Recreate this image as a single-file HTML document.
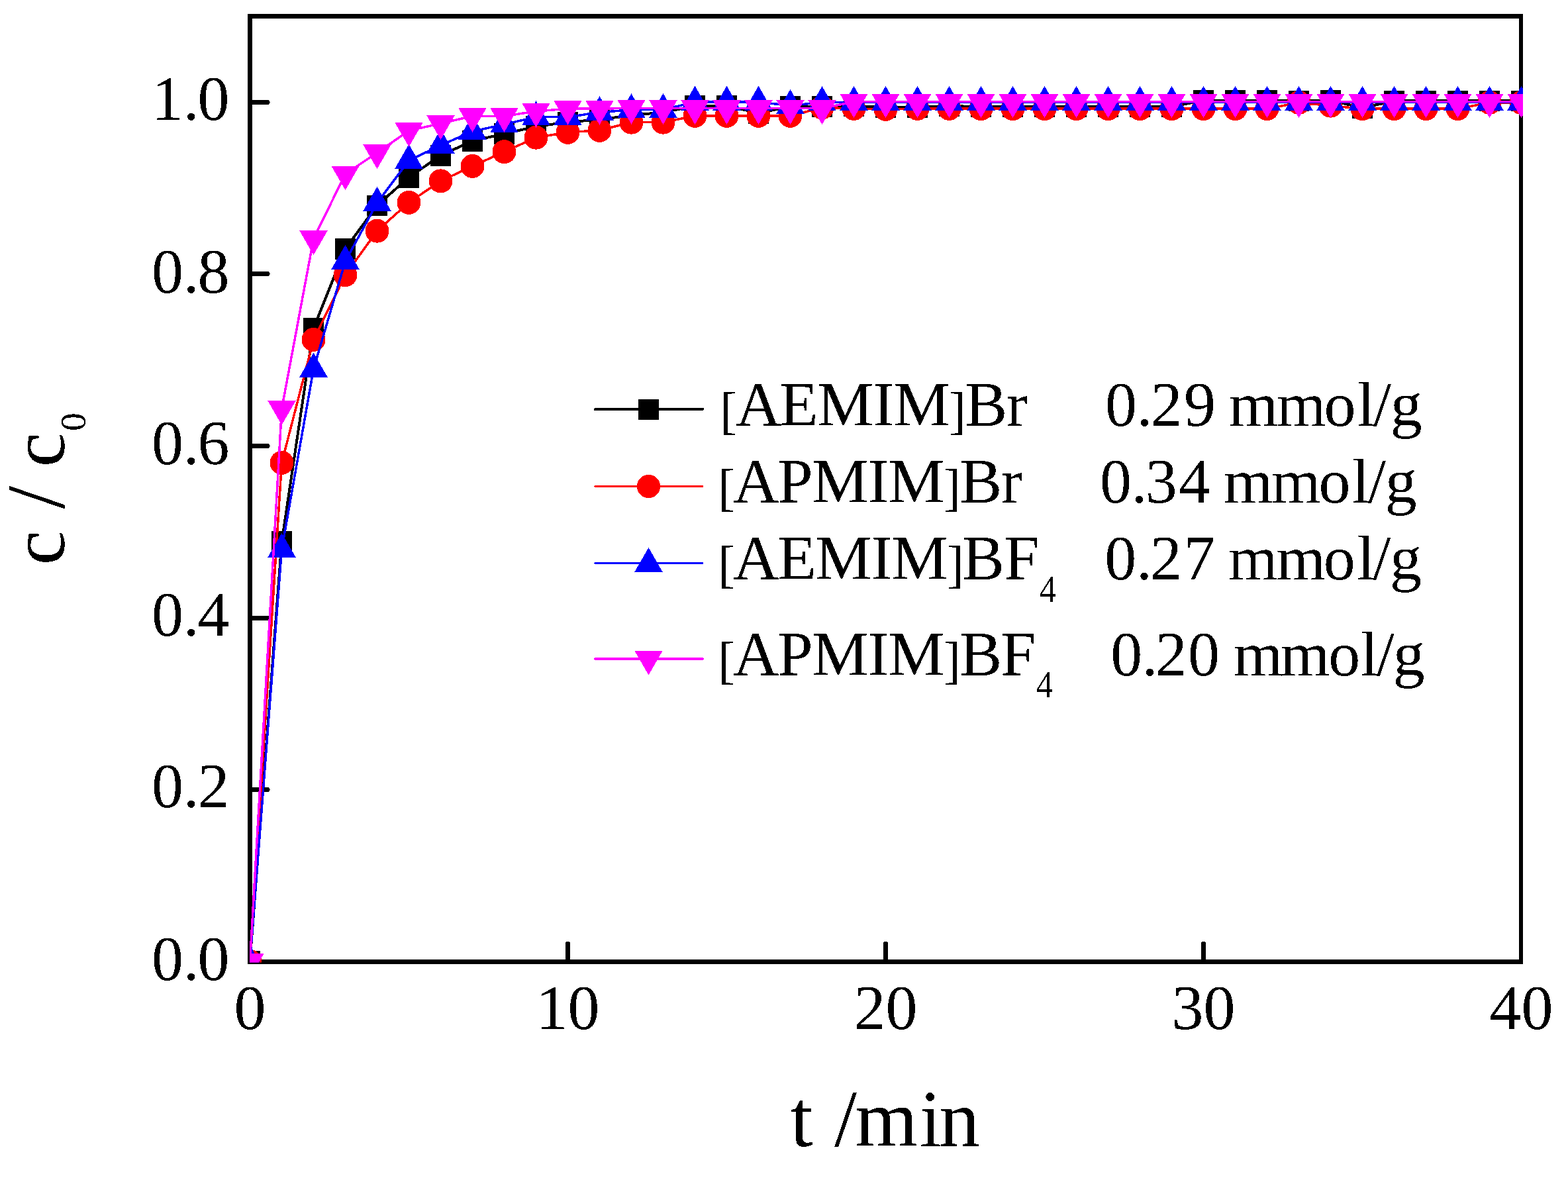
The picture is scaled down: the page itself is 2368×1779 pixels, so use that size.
<!DOCTYPE html>
<html><head><meta charset="utf-8"><title>c/c0 vs t</title>
<style>
html,body{margin:0;padding:0;background:#fff;overflow:hidden;}
svg{display:block;}
text{font-family:'Liberation Serif', 'Times New Roman', serif;fill:#000;filter:url(#al);}
</style></head><body>
<svg width="2368" height="1779" viewBox="0 0 2368 1779" shape-rendering="crispEdges">
<rect x="0" y="0" width="2368" height="1779" fill="#fff"/>
<defs><filter id="al" x="-5%" y="-5%" width="110%" height="110%"><feComponentTransfer><feFuncA type="discrete" tableValues="0 1"/></feComponentTransfer></filter><clipPath id="pc"><rect x="377" y="24.5" width="1923" height="1429"/></clipPath></defs>
<g fill="#000" shape-rendering="crispEdges"><rect x="374" y="21" width="7" height="1435"/><rect x="374" y="21" width="1926" height="7"/><rect x="2294" y="21" width="6" height="1435"/><rect x="374" y="1449" width="1926" height="7"/></g>
<line x1="378" y1="1192.5" x2="404.1" y2="1192.5" stroke="#000" stroke-width="7" stroke-linecap="round"/><line x1="378" y1="933.5" x2="404.1" y2="933.5" stroke="#000" stroke-width="7" stroke-linecap="round"/><line x1="378" y1="673.5" x2="404.1" y2="673.5" stroke="#000" stroke-width="7" stroke-linecap="round"/><line x1="378" y1="413.5" x2="404.1" y2="413.5" stroke="#000" stroke-width="7" stroke-linecap="round"/><line x1="378" y1="154.5" x2="404.1" y2="154.5" stroke="#000" stroke-width="7" stroke-linecap="round"/>
<line x1="857.5" y1="1452" x2="857.5" y2="1425.4" stroke="#000" stroke-width="7" stroke-linecap="round"/><line x1="1337.5" y1="1452" x2="1337.5" y2="1425.4" stroke="#000" stroke-width="7" stroke-linecap="round"/><line x1="1817.5" y1="1452" x2="1817.5" y2="1425.4" stroke="#000" stroke-width="7" stroke-linecap="round"/>
<text x="229 276.7 298.4" y="1480.0" font-size="96">0.0</text><text x="229 276.7 298.4" y="1218.9" font-size="96">0.2</text><text x="229 276.7 298.4" y="959.6" font-size="96">0.4</text><text x="229 276.7 298.4" y="700.9" font-size="96">0.6</text><text x="229 276.7 298.4" y="441.5" font-size="96">0.8</text><text x="229 276.7 298.4" y="181.1" font-size="96">1.0</text>
<text x="377.5" y="1553.9" font-size="96" text-anchor="middle">0</text><text x="857.5" y="1553.9" font-size="96" text-anchor="middle">10</text><text x="1337.5" y="1553.9" font-size="96" text-anchor="middle">20</text><text x="1817.5" y="1553.9" font-size="96" text-anchor="middle">30</text><text x="2297.5" y="1553.9" font-size="96" text-anchor="middle">40</text>
<text x="1193.5 1227.4 1260.3 1291.3 1388.6 1418.6" y="1731.3" font-size="122">t /min</text>
<text transform="translate(96.7,853.3) rotate(-90)"><tspan x="0" font-size="117">c </tspan><tspan x="84.7" font-size="125">/ </tspan><tspan x="148.1" font-size="117">c</tspan><tspan x="202.2" dy="32.3" font-size="55.4">0</tspan></text>
<g clip-path="url(#pc)" shape-rendering="crispEdges">
<polyline fill="none" stroke="#000" stroke-width="4" stroke-linejoin="round" points="377.5,1452.0 425.5,818.2 473.5,495.7 521.5,375.9 569.5,310.2 617.5,267.8 665.5,234.8 713.5,212.8 761.5,202.0 809.5,191.0 857.5,184.5 905.5,180.5 953.5,174.1 1001.5,169.6 1049.5,159.8 1097.5,159.8 1145.5,170.7 1193.5,160.9 1241.5,161.0 1289.5,160.1 1337.5,161.8 1385.5,161.8 1433.5,160.1 1481.5,161.0 1529.5,161.0 1577.5,161.0 1625.5,161.0 1673.5,161.0 1721.5,161.0 1769.5,161.0 1817.5,151.6 1865.5,151.6 1913.5,151.6 1961.5,152.6 2009.5,151.6 2057.5,162.9 2105.5,152.4 2153.5,152.4 2201.5,152.4 2249.5,152.4 2297.5,152.4"/>
<rect x="361.8" y="1436.2" width="31.5" height="31.5" fill="#000"/><rect x="409.8" y="802.4" width="31.5" height="31.5" fill="#000"/><rect x="457.8" y="480.0" width="31.5" height="31.5" fill="#000"/><rect x="505.8" y="360.1" width="31.5" height="31.5" fill="#000"/><rect x="553.8" y="294.5" width="31.5" height="31.5" fill="#000"/><rect x="601.8" y="252.0" width="31.5" height="31.5" fill="#000"/><rect x="649.8" y="219.1" width="31.5" height="31.5" fill="#000"/><rect x="697.8" y="197.0" width="31.5" height="31.5" fill="#000"/><rect x="745.8" y="186.2" width="31.5" height="31.5" fill="#000"/><rect x="793.8" y="175.2" width="31.5" height="31.5" fill="#000"/><rect x="841.8" y="168.7" width="31.5" height="31.5" fill="#000"/><rect x="889.8" y="164.7" width="31.5" height="31.5" fill="#000"/><rect x="937.8" y="158.3" width="31.5" height="31.5" fill="#000"/><rect x="985.8" y="153.8" width="31.5" height="31.5" fill="#000"/><rect x="1033.8" y="144.1" width="31.5" height="31.5" fill="#000"/><rect x="1081.8" y="144.1" width="31.5" height="31.5" fill="#000"/><rect x="1129.8" y="155.0" width="31.5" height="31.5" fill="#000"/><rect x="1177.8" y="145.1" width="31.5" height="31.5" fill="#000"/><rect x="1225.8" y="145.2" width="31.5" height="31.5" fill="#000"/><rect x="1273.8" y="144.3" width="31.5" height="31.5" fill="#000"/><rect x="1321.8" y="146.0" width="31.5" height="31.5" fill="#000"/><rect x="1369.8" y="146.0" width="31.5" height="31.5" fill="#000"/><rect x="1417.8" y="144.3" width="31.5" height="31.5" fill="#000"/><rect x="1465.8" y="145.2" width="31.5" height="31.5" fill="#000"/><rect x="1513.8" y="145.2" width="31.5" height="31.5" fill="#000"/><rect x="1561.8" y="145.2" width="31.5" height="31.5" fill="#000"/><rect x="1609.8" y="145.2" width="31.5" height="31.5" fill="#000"/><rect x="1657.8" y="145.2" width="31.5" height="31.5" fill="#000"/><rect x="1705.8" y="145.2" width="31.5" height="31.5" fill="#000"/><rect x="1753.8" y="145.2" width="31.5" height="31.5" fill="#000"/><rect x="1801.8" y="135.9" width="31.5" height="31.5" fill="#000"/><rect x="1849.8" y="135.9" width="31.5" height="31.5" fill="#000"/><rect x="1897.8" y="135.9" width="31.5" height="31.5" fill="#000"/><rect x="1945.8" y="136.8" width="31.5" height="31.5" fill="#000"/><rect x="1993.8" y="135.9" width="31.5" height="31.5" fill="#000"/><rect x="2041.8" y="147.2" width="31.5" height="31.5" fill="#000"/><rect x="2089.8" y="136.7" width="31.5" height="31.5" fill="#000"/><rect x="2137.8" y="136.7" width="31.5" height="31.5" fill="#000"/><rect x="2185.8" y="136.7" width="31.5" height="31.5" fill="#000"/><rect x="2233.8" y="136.7" width="31.5" height="31.5" fill="#000"/><rect x="2281.8" y="136.7" width="31.5" height="31.5" fill="#000"/>
<polyline fill="none" stroke="#f00" stroke-width="3.5" stroke-linejoin="round" points="377.5,1452.0 425.5,698.8 473.5,513.0 521.5,415.3 569.5,348.7 617.5,305.8 665.5,273.4 713.5,251.0 761.5,229.2 809.5,207.7 857.5,199.8 905.5,196.8 953.5,184.7 1001.5,184.7 1049.5,174.9 1097.5,174.9 1145.5,174.9 1193.5,174.9 1241.5,162.5 1289.5,164.0 1337.5,164.8 1385.5,164.0 1433.5,164.0 1481.5,164.2 1529.5,164.2 1577.5,164.2 1625.5,164.2 1673.5,164.2 1721.5,164.2 1769.5,164.2 1817.5,164.2 1865.5,164.2 1913.5,164.2 1961.5,155.0 2009.5,159.7 2057.5,164.2 2105.5,164.2 2153.5,164.2 2201.5,164.2 2249.5,155.0 2297.5,155.0"/>
<circle cx="377.5" cy="1452.0" r="18.0" fill="#f00"/><circle cx="425.5" cy="698.8" r="18.0" fill="#f00"/><circle cx="473.5" cy="513.0" r="18.0" fill="#f00"/><circle cx="521.5" cy="415.3" r="18.0" fill="#f00"/><circle cx="569.5" cy="348.7" r="18.0" fill="#f00"/><circle cx="617.5" cy="305.8" r="18.0" fill="#f00"/><circle cx="665.5" cy="273.4" r="18.0" fill="#f00"/><circle cx="713.5" cy="251.0" r="18.0" fill="#f00"/><circle cx="761.5" cy="229.2" r="18.0" fill="#f00"/><circle cx="809.5" cy="207.7" r="18.0" fill="#f00"/><circle cx="857.5" cy="199.8" r="18.0" fill="#f00"/><circle cx="905.5" cy="196.8" r="18.0" fill="#f00"/><circle cx="953.5" cy="184.7" r="18.0" fill="#f00"/><circle cx="1001.5" cy="184.7" r="18.0" fill="#f00"/><circle cx="1049.5" cy="174.9" r="18.0" fill="#f00"/><circle cx="1097.5" cy="174.9" r="18.0" fill="#f00"/><circle cx="1145.5" cy="174.9" r="18.0" fill="#f00"/><circle cx="1193.5" cy="174.9" r="18.0" fill="#f00"/><circle cx="1241.5" cy="162.5" r="18.0" fill="#f00"/><circle cx="1289.5" cy="164.0" r="18.0" fill="#f00"/><circle cx="1337.5" cy="164.8" r="18.0" fill="#f00"/><circle cx="1385.5" cy="164.0" r="18.0" fill="#f00"/><circle cx="1433.5" cy="164.0" r="18.0" fill="#f00"/><circle cx="1481.5" cy="164.2" r="18.0" fill="#f00"/><circle cx="1529.5" cy="164.2" r="18.0" fill="#f00"/><circle cx="1577.5" cy="164.2" r="18.0" fill="#f00"/><circle cx="1625.5" cy="164.2" r="18.0" fill="#f00"/><circle cx="1673.5" cy="164.2" r="18.0" fill="#f00"/><circle cx="1721.5" cy="164.2" r="18.0" fill="#f00"/><circle cx="1769.5" cy="164.2" r="18.0" fill="#f00"/><circle cx="1817.5" cy="164.2" r="18.0" fill="#f00"/><circle cx="1865.5" cy="164.2" r="18.0" fill="#f00"/><circle cx="1913.5" cy="164.2" r="18.0" fill="#f00"/><circle cx="1961.5" cy="155.0" r="18.0" fill="#f00"/><circle cx="2009.5" cy="159.7" r="18.0" fill="#f00"/><circle cx="2057.5" cy="164.2" r="18.0" fill="#f00"/><circle cx="2105.5" cy="164.2" r="18.0" fill="#f00"/><circle cx="2153.5" cy="164.2" r="18.0" fill="#f00"/><circle cx="2201.5" cy="164.2" r="18.0" fill="#f00"/><circle cx="2249.5" cy="155.0" r="18.0" fill="#f00"/><circle cx="2297.5" cy="155.0" r="18.0" fill="#f00"/>
<polyline fill="none" stroke="#00f" stroke-width="3.5" stroke-linejoin="round" points="377.5,1452.0 425.5,829.5 473.5,557.2 521.5,394.4 569.5,306.4 617.5,242.3 665.5,219.5 713.5,198.4 761.5,187.8 809.5,176.7 857.5,176.7 905.5,169.6 953.5,165.8 1001.5,165.5 1049.5,154.2 1097.5,154.2 1145.5,154.2 1193.5,159.4 1241.5,154.6 1289.5,154.5 1337.5,154.5 1385.5,154.5 1433.5,154.5 1481.5,154.5 1529.5,154.5 1577.5,154.5 1625.5,154.5 1673.5,154.5 1721.5,154.5 1769.5,154.5 1817.5,154.5 1865.5,154.5 1913.5,154.5 1961.5,154.5 2009.5,154.5 2057.5,154.5 2105.5,154.5 2153.5,154.5 2201.5,154.5 2249.5,154.5 2297.5,154.5"/>
<polygon points="377.5,1427.5 356.3,1464.2 398.7,1464.2" fill="#00f"/><polygon points="425.5,805.0 404.3,841.7 446.7,841.7" fill="#00f"/><polygon points="473.5,532.7 452.3,569.5 494.7,569.5" fill="#00f"/><polygon points="521.5,369.9 500.3,406.7 542.7,406.7" fill="#00f"/><polygon points="569.5,281.9 548.3,318.7 590.7,318.7" fill="#00f"/><polygon points="617.5,217.8 596.3,254.6 638.7,254.6" fill="#00f"/><polygon points="665.5,195.0 644.3,231.8 686.7,231.8" fill="#00f"/><polygon points="713.5,173.9 692.3,210.6 734.7,210.6" fill="#00f"/><polygon points="761.5,163.3 740.3,200.1 782.7,200.1" fill="#00f"/><polygon points="809.5,152.2 788.3,188.9 830.7,188.9" fill="#00f"/><polygon points="857.5,152.2 836.3,188.9 878.7,188.9" fill="#00f"/><polygon points="905.5,145.1 884.3,181.8 926.7,181.8" fill="#00f"/><polygon points="953.5,141.3 932.3,178.0 974.7,178.0" fill="#00f"/><polygon points="1001.5,141.0 980.3,177.8 1022.7,177.8" fill="#00f"/><polygon points="1049.5,129.7 1028.3,166.5 1070.7,166.5" fill="#00f"/><polygon points="1097.5,129.7 1076.3,166.5 1118.7,166.5" fill="#00f"/><polygon points="1145.5,129.7 1124.3,166.5 1166.7,166.5" fill="#00f"/><polygon points="1193.5,134.9 1172.3,171.7 1214.7,171.7" fill="#00f"/><polygon points="1241.5,130.1 1220.3,166.9 1262.7,166.9" fill="#00f"/><polygon points="1289.5,130.0 1268.3,166.8 1310.7,166.8" fill="#00f"/><polygon points="1337.5,130.0 1316.3,166.8 1358.7,166.8" fill="#00f"/><polygon points="1385.5,130.0 1364.3,166.8 1406.7,166.8" fill="#00f"/><polygon points="1433.5,130.0 1412.3,166.8 1454.7,166.8" fill="#00f"/><polygon points="1481.5,130.0 1460.3,166.8 1502.7,166.8" fill="#00f"/><polygon points="1529.5,130.0 1508.3,166.8 1550.7,166.8" fill="#00f"/><polygon points="1577.5,130.0 1556.3,166.8 1598.7,166.8" fill="#00f"/><polygon points="1625.5,130.0 1604.3,166.8 1646.7,166.8" fill="#00f"/><polygon points="1673.5,130.0 1652.3,166.8 1694.7,166.8" fill="#00f"/><polygon points="1721.5,130.0 1700.3,166.8 1742.7,166.8" fill="#00f"/><polygon points="1769.5,130.0 1748.3,166.8 1790.7,166.8" fill="#00f"/><polygon points="1817.5,130.0 1796.3,166.8 1838.7,166.8" fill="#00f"/><polygon points="1865.5,130.0 1844.3,166.8 1886.7,166.8" fill="#00f"/><polygon points="1913.5,130.0 1892.3,166.8 1934.7,166.8" fill="#00f"/><polygon points="1961.5,130.0 1940.3,166.8 1982.7,166.8" fill="#00f"/><polygon points="2009.5,130.0 1988.3,166.8 2030.7,166.8" fill="#00f"/><polygon points="2057.5,130.0 2036.3,166.8 2078.7,166.8" fill="#00f"/><polygon points="2105.5,130.0 2084.3,166.8 2126.7,166.8" fill="#00f"/><polygon points="2153.5,130.0 2132.3,166.8 2174.7,166.8" fill="#00f"/><polygon points="2201.5,130.0 2180.3,166.8 2222.7,166.8" fill="#00f"/><polygon points="2249.5,130.0 2228.3,166.8 2270.7,166.8" fill="#00f"/><polygon points="2297.5,130.0 2276.3,166.8 2318.7,166.8" fill="#00f"/>
<polyline fill="none" stroke="#f0f" stroke-width="3.5" stroke-linejoin="round" points="377.5,1452.0 425.5,617.4 473.5,360.7 521.5,262.7 569.5,230.7 617.5,197.3 665.5,186.5 713.5,175.3 761.5,175.3 809.5,168.1 857.5,164.2 905.5,164.2 953.5,163.2 1001.5,163.6 1049.5,163.6 1097.5,163.6 1145.5,163.6 1193.5,163.6 1241.5,163.6 1289.5,153.7 1337.5,153.7 1385.5,153.7 1433.5,153.7 1481.5,153.7 1529.5,153.7 1577.5,153.7 1625.5,153.7 1673.5,153.7 1721.5,153.7 1769.5,153.7 1817.5,153.7 1865.5,153.7 1913.5,153.7 1961.5,153.7 2009.5,153.7 2057.5,153.7 2105.5,153.7 2153.5,153.7 2201.5,153.7 2249.5,153.7 2297.5,153.7"/>
<polygon points="377.5,1476.5 356.3,1439.8 398.7,1439.8" fill="#f0f"/><polygon points="425.5,641.9 404.3,605.2 446.7,605.2" fill="#f0f"/><polygon points="473.5,385.2 452.3,348.4 494.7,348.4" fill="#f0f"/><polygon points="521.5,287.2 500.3,250.5 542.7,250.5" fill="#f0f"/><polygon points="569.5,255.2 548.3,218.4 590.7,218.4" fill="#f0f"/><polygon points="617.5,221.8 596.3,185.1 638.7,185.1" fill="#f0f"/><polygon points="665.5,211.0 644.3,174.3 686.7,174.3" fill="#f0f"/><polygon points="713.5,199.8 692.3,163.0 734.7,163.0" fill="#f0f"/><polygon points="761.5,199.8 740.3,163.0 782.7,163.0" fill="#f0f"/><polygon points="809.5,192.6 788.3,155.9 830.7,155.9" fill="#f0f"/><polygon points="857.5,188.7 836.3,152.0 878.7,152.0" fill="#f0f"/><polygon points="905.5,188.7 884.3,152.0 926.7,152.0" fill="#f0f"/><polygon points="953.5,187.7 932.3,150.9 974.7,150.9" fill="#f0f"/><polygon points="1001.5,188.1 980.3,151.3 1022.7,151.3" fill="#f0f"/><polygon points="1049.5,188.1 1028.3,151.3 1070.7,151.3" fill="#f0f"/><polygon points="1097.5,188.1 1076.3,151.3 1118.7,151.3" fill="#f0f"/><polygon points="1145.5,188.1 1124.3,151.3 1166.7,151.3" fill="#f0f"/><polygon points="1193.5,188.1 1172.3,151.3 1214.7,151.3" fill="#f0f"/><polygon points="1241.5,188.1 1220.3,151.3 1262.7,151.3" fill="#f0f"/><polygon points="1289.5,178.2 1268.3,141.5 1310.7,141.5" fill="#f0f"/><polygon points="1337.5,178.2 1316.3,141.5 1358.7,141.5" fill="#f0f"/><polygon points="1385.5,178.2 1364.3,141.5 1406.7,141.5" fill="#f0f"/><polygon points="1433.5,178.2 1412.3,141.5 1454.7,141.5" fill="#f0f"/><polygon points="1481.5,178.2 1460.3,141.5 1502.7,141.5" fill="#f0f"/><polygon points="1529.5,178.2 1508.3,141.5 1550.7,141.5" fill="#f0f"/><polygon points="1577.5,178.2 1556.3,141.5 1598.7,141.5" fill="#f0f"/><polygon points="1625.5,178.2 1604.3,141.5 1646.7,141.5" fill="#f0f"/><polygon points="1673.5,178.2 1652.3,141.5 1694.7,141.5" fill="#f0f"/><polygon points="1721.5,178.2 1700.3,141.5 1742.7,141.5" fill="#f0f"/><polygon points="1769.5,178.2 1748.3,141.5 1790.7,141.5" fill="#f0f"/><polygon points="1817.5,178.2 1796.3,141.5 1838.7,141.5" fill="#f0f"/><polygon points="1865.5,178.2 1844.3,141.5 1886.7,141.5" fill="#f0f"/><polygon points="1913.5,178.2 1892.3,141.5 1934.7,141.5" fill="#f0f"/><polygon points="1961.5,178.2 1940.3,141.5 1982.7,141.5" fill="#f0f"/><polygon points="2009.5,178.2 1988.3,141.5 2030.7,141.5" fill="#f0f"/><polygon points="2057.5,178.2 2036.3,141.5 2078.7,141.5" fill="#f0f"/><polygon points="2105.5,178.2 2084.3,141.5 2126.7,141.5" fill="#f0f"/><polygon points="2153.5,178.2 2132.3,141.5 2174.7,141.5" fill="#f0f"/><polygon points="2201.5,178.2 2180.3,141.5 2222.7,141.5" fill="#f0f"/><polygon points="2249.5,178.2 2228.3,141.5 2270.7,141.5" fill="#f0f"/><polygon points="2297.5,178.2 2276.3,141.5 2318.7,141.5" fill="#f0f"/>
</g>
<line x1="899" y1="618" x2="1061" y2="618" stroke="#000" stroke-width="4" stroke-linecap="round"/><rect x="964.0" y="602.5" width="31" height="31" fill="#000"/><text x="1087.2" y="647.0" font-size="77.4">[</text><text x="1111.1 1177.1 1234.1 1318.6 1349.4" y="642.9" font-size="96">AEMIM</text><text x="1433.2" y="647.0" font-size="77.4">]</text><text x="1457.3 1520.1" y="642.9" font-size="96">Br</text><text x="1669.0 1716.6 1737.7 1788.0 1836.0 1855.8 1928.0 1999.5 2050.1 2074.2 2099.8" y="642.9" font-size="96">0.29 mmol/g</text>
<line x1="899" y1="734.5" x2="1061" y2="734.5" stroke="#f00" stroke-width="3" stroke-linecap="round"/><circle cx="979.5" cy="734.5" r="17.6" fill="#f00"/><text x="1084.3" y="762.9" font-size="77.4">[</text><text x="1107.1 1174.2 1226.2 1310.4 1341.2" y="758.8" font-size="96">APMIM</text><text x="1425.1" y="762.9" font-size="77.4">]</text><text x="1449.2 1511.9" y="758.8" font-size="96">Br</text><text x="1661.0 1708.6 1729.7 1780.0 1828.0 1847.8 1920.0 1991.5 2042.1 2066.2 2091.8" y="758.8" font-size="96">0.34 mmol/g</text>
<line x1="899" y1="850.5" x2="1061" y2="850.5" stroke="#00f" stroke-width="3" stroke-linecap="round"/><polygon points="979.5,827.0 958.3,863.8 1000.7,863.8" fill="#00f"/><text x="1084.3" y="878.7" font-size="77.4">[</text><text x="1107.1 1174.2 1231.2 1315.7 1346.2" y="874.6" font-size="96">AEMIM</text><text x="1430.3" y="878.7" font-size="77.4">]</text><text x="1453.1 1516.2" y="874.6" font-size="96">BF</text><text x="1569.7" y="908.7" font-size="57.6" textLength="25.5" lengthAdjust="spacingAndGlyphs">4</text><text x="1668.3 1715.9 1737.0 1787.3 1835.3 1855.1 1927.3 1998.8 2049.4 2073.5 2099.1" y="874.6" font-size="96">0.27 mmol/g</text>
<line x1="899" y1="995" x2="1061" y2="995" stroke="#f0f" stroke-width="3.5" stroke-linecap="round"/><polygon points="979.5,1019.5 958.3,982.8 1000.7,982.8" fill="#f0f"/><text x="1084.3" y="1023.7" font-size="77.4">[</text><text x="1107.1 1174.2 1226.2 1310.4 1341.2" y="1019.6" font-size="96">APMIM</text><text x="1425.1" y="1023.7" font-size="77.4">]</text><text x="1449.2 1511.0" y="1019.6" font-size="96">BF</text><text x="1564.8" y="1052.7" font-size="57.6" textLength="25.5" lengthAdjust="spacingAndGlyphs">4</text><text x="1677.2 1724.6 1744.8 1794.1 1842.1 1862.7 1933.8 2006.2 2055 2078.9 2103.7" y="1019.6" font-size="96">0.20 mmol/g</text>
</svg>
</body></html>
